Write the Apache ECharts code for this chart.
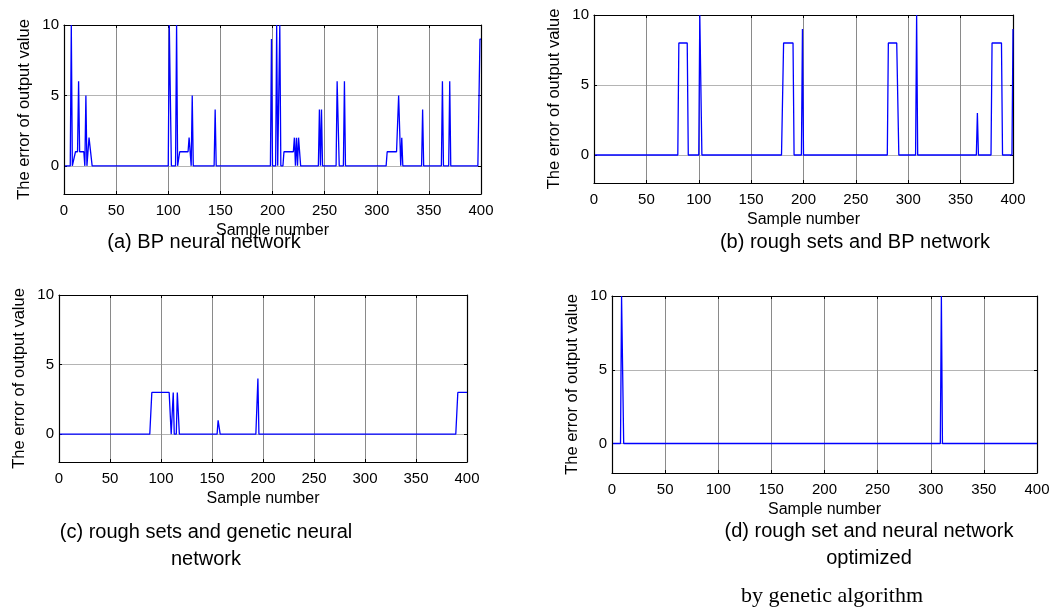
<!DOCTYPE html>
<html><head><meta charset="utf-8">
<script src="https://cdn.jsdelivr.net/npm/echarts@6/dist/echarts.min.js"></script>
<style>html,body{margin:0;padding:0;background:#fff}#c{width:1056px;height:614px}</style>
</head><body><div id="c"></div>
<script>
// ---------- data ----------
const xMin = 0, xMax = 400, xStep = 50;
const yMin = -2, yMax = 10;
const yTickValues = [0, 5, 10];
const xAxisName = 'Sample number';
const yAxisName = 'The error of output value';

const captionA = '(a) BP neural network';
const captionB = '(b) rough sets and BP network';
const captionC = '(c) rough sets and genetic neural\nnetwork';
const captionD = '(d) rough set and neural network\noptimized';
const captionD2 = 'by genetic algorithm';

// (a) BP neural network — vertices of the error polyline
const sampleA = [1,6,7,8,9,11,13,14,15,19,20,21,22,24,25,27,
  100,101,102,103,107,108,109,110,111,119,120,121,122,123,124,
  144,145,146,
  198,199,200,203,204,205,206,207,208,210,211,220,221,222,223,224,225,226,227,
  244,245,246,247,248,
  261,262,263,264,268,269,270,
  309,310,319,321,322,323,324,325,
  343,344,345,
  362,363,364,369,370,371,
  397,399,400];
const errorA = [0,0,10,0,0,1,1,6,1,1,0,5,0,2,2,0,
  0,10,10,0,0,10,0,0,1,1,2,2,0,5,0,
  0,4,0,
  0,9,0,0,10,0,0,10,0,0,1,1,2,0,2,0,2,2,0,
  0,4,0,4,0,
  0,6,6,0,0,6,0,
  0,1,1,5,5,0,2,0,
  0,4,0,
  0,6,0,0,6,0,
  0,9,9];

// (b) rough sets and BP network
const sampleB = [1,80,81,89,90,100,101,102,103,179,181,190,191,198,199,200,
  280,281,289,291,307,308,309,365,366,367,379,380,389,390,399,400];
const errorB = [0,0,8,8,0,0,10,10,0,0,8,8,0,0,9,0,
  0,8,8,0,0,10,0,0,3,0,0,8,8,0,0,9];

// (c) rough sets and genetic neural network
const sampleC = [1,89,91,108,110,111,112,113,115,116,117,118,155,156,157,158,193,195,196,389,391,400];
const errorC = [0,0,3,3,0,0,3,0,0,3,3,0,0,1,1,0,0,4,0,0,3,3];

// (d) rough set and neural network optimized by genetic algorithm
const sampleD = [1,8,9,10,11,309,310,311,400];
const errorD = [0,0,10,10,0,0,10,0,0];

// ---------- layout ----------
const FONT = '"Liberation Sans", Arial, sans-serif';
const grids = [
  {left: 64, top: 25, width: 417, height: 169},
  {left: 594, top: 15, width: 419, height: 168},
  {left: 59, top: 295, width: 408, height: 167},
  {left: 612, top: 296, width: 425, height: 177}
];
const seriesData = [[sampleA, errorA], [sampleB, errorB], [sampleC, errorC], [sampleD, errorD]];

const xAxes = [], yAxes = [], series = [];
grids.forEach((g, i) => {
  xAxes.push({
    gridIndex: i, type: 'value', min: xMin, max: xMax, interval: xStep, position: 'bottom',
    axisLine: {onZero: false, lineStyle: {color: '#000', width: 1.2}},
    axisTick: {inside: true, length: 3, lineStyle: {color: '#000'}},
    axisLabel: {color: '#000', fontSize: 15, fontFamily: FONT, margin: 9},
    splitLine: {show: true, lineStyle: {color: '#8a8a8a', width: 1}},
    name: xAxisName, nameLocation: 'middle', nameGap: 29,
    nameTextStyle: {color: '#000', fontSize: 16, fontFamily: FONT}
  });
  yAxes.push({
    gridIndex: i, type: 'value', min: yMin, max: yMax, position: 'left',
    axisLine: {show: true, onZero: false, lineStyle: {color: '#000', width: 1.2}},
    axisTick: {show: true, inside: true, length: 3, customValues: yTickValues, lineStyle: {color: '#000'}},
    axisLabel: {color: '#000', fontSize: 15, fontFamily: FONT, margin: 5, customValues: yTickValues},
    splitLine: {show: true, lineStyle: {color: '#b4b4b4', width: 1}},
    name: yAxisName, nameLocation: 'middle', nameGap: 31,
    nameTextStyle: {color: '#000', fontSize: 16.5, fontFamily: FONT}
  });
  const [xs, ys] = seriesData[i];
  series.push({
    type: 'line', xAxisIndex: i, yAxisIndex: i,
    data: xs.map((x, k) => [x, ys[k]]),
    showSymbol: false, symbol: 'none', animation: false,
    lineStyle: {color: '#0000ff', width: 1.3}
  });
});
grids.forEach((g, i) => {
  xAxes.push({
    gridIndex: i, type: 'value', min: xMin, max: xMax, interval: xStep, position: 'top',
    axisLine: {show: true, onZero: false, lineStyle: {color: '#000', width: 1.2}},
    axisTick: {inside: true, length: 3, lineStyle: {color: '#000'}},
    axisLabel: {show: false}, splitLine: {show: false}
  });
  yAxes.push({
    gridIndex: i, type: 'value', min: yMin, max: yMax, position: 'right',
    axisLine: {show: true, onZero: false, lineStyle: {color: '#000', width: 1.2}},
    axisTick: {show: true, inside: true, length: 3, customValues: yTickValues, lineStyle: {color: '#000'}},
    axisLabel: {show: false}, splitLine: {show: false}
  });
});

function cap(text, x, y, font) {
  return {type: 'text', x: x, y: y, style: {text: text, fill: '#000', font: font,
    textAlign: 'center', textVerticalAlign: 'middle', lineHeight: 27}};
}
const capFont = '20px ' + FONT;
const graphics = [
  cap(captionA, 204, 242, capFont),
  cap(captionB, 855, 242, capFont),
  cap(captionC, 206, 546, capFont),
  cap(captionD, 869, 545, capFont),
  cap(captionD2, 832, 596, '22px "Liberation Serif", "Times New Roman", serif')
];

const chart = echarts.init(document.getElementById('c'), null, {renderer: 'canvas'});
chart.setOption({
  backgroundColor: '#fff',
  animation: false,
  grid: grids.map(g => Object.assign({containLabel: false}, g)),
  xAxis: xAxes,
  yAxis: yAxes,
  series: series,
  graphic: graphics
});
</script>
</body></html>
